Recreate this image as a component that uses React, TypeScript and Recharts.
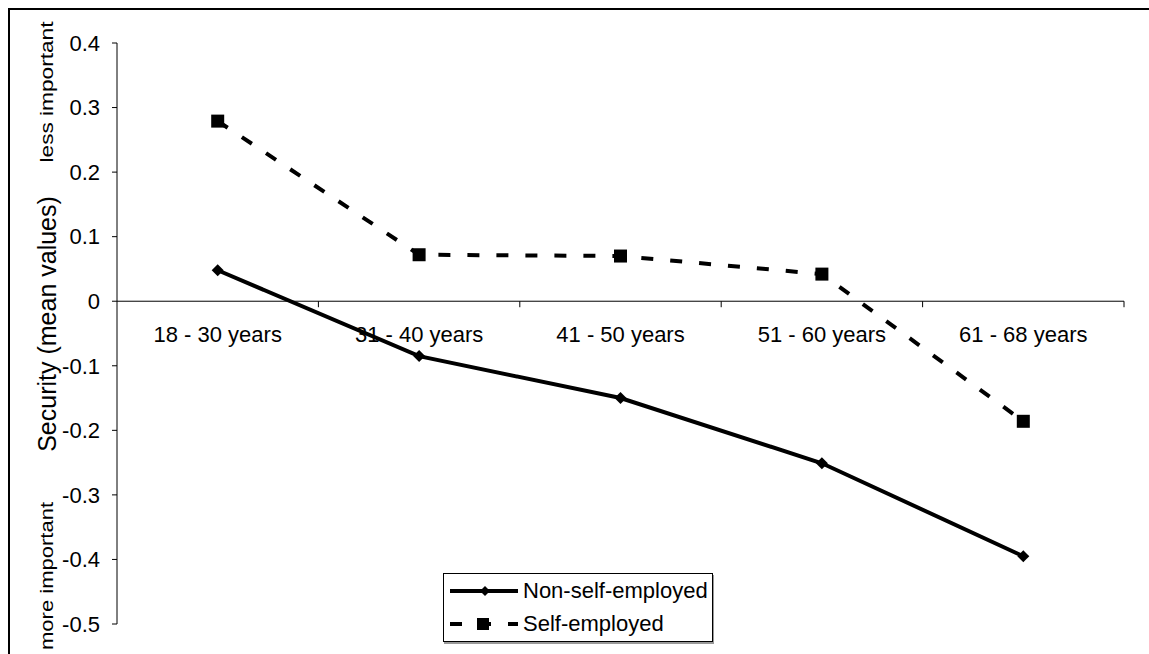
import React from "react";
import {
  LineChart,
  Line,
  XAxis,
  YAxis,
  Legend,
  ReferenceLine,
} from "recharts";

const categories = ["18 - 30 years", "31 - 40 years", "41 - 50 years", "51 - 60 years", "61 - 68 years"];
const nonSelfEmployed = [0.048, -0.085, -0.15, -0.251, -0.395];
const selfEmployed = [0.279, 0.072, 0.07, 0.042, -0.186];
const yTicks = [0.4, 0.3, 0.2, 0.1, 0, -0.1, -0.2, -0.3, -0.4, -0.5];

const FONT = "'Liberation Sans', Arial, Helvetica, sans-serif";
const W = 1139;
const H = 644;
const X_AXIS_H = 30;
const M = { top: 33, right: 25, bottom: 0, left: 0 };
const Y_AXIS_W = 107;
const PLOT_W = W - M.left - M.right - Y_AXIS_W;
const PLOT_H = H - M.top - M.bottom - X_AXIS_H;
const HALF_BAND = PLOT_W / categories.length / 2;
// y pixel of the zero line, where the category axis sits
const ZERO_Y = M.top + (yTicks[0] / (yTicks[0] - yTicks[yTicks.length - 1])) * PLOT_H;

// the chart fills the window edge to edge, so keep scrollbars away
if (typeof document !== "undefined") {
  document.documentElement.style.overflow = "hidden";
  document.body.style.overflow = "hidden";
}

const data = categories.map((name, i) => ({
  name,
  nonSelf: nonSelfEmployed[i],
  self: selfEmployed[i],
}));

function CategoryTick(props: any) {
  const { x, payload } = props;
  const edge = x + HALF_BAND;
  return (
    <g>
      <line x1={edge} x2={edge} y1={ZERO_Y} y2={ZERO_Y + 6} stroke="#000" strokeWidth={1} />
      <text x={x} y={ZERO_Y + 41} textAnchor="middle" fontSize={22} fontFamily={FONT} fill="#000">
        {payload.value}
      </text>
    </g>
  );
}

function DiamondDot(props: any) {
  const { cx, cy, index } = props;
  const s = 6;
  return (
    <path
      key={`d-${index}`}
      d={`M${cx},${cy - s}L${cx + s},${cy}L${cx},${cy + s}L${cx - s},${cy}Z`}
      fill="#000"
    />
  );
}

function SquareDot(props: any) {
  const { cx, cy, index } = props;
  const s = 13;
  return <rect key={`s-${index}`} x={cx - s / 2} y={cy - s / 2} width={s} height={s} fill="#000" />;
}

function AxisTitles() {
  const x = 37;
  const t = (y: number, size: number, text: string, len?: number) => (
    <text
      x={x}
      y={y}
      transform={`rotate(-90 ${x} ${y})`}
      textAnchor="middle"
      dominantBaseline="central"
      fontSize={size}
      fontFamily={FONT}
      fill="#000"
      textLength={len}
      lengthAdjust={len ? "spacingAndGlyphs" : undefined}
    >
      {text}
    </text>
  );
  return (
    <g>
      {t(82, 18, "less important", 141)}
      {t(314, 25, "Security (mean values)")}
      {t(566, 18, "more important", 148)}
    </g>
  );
}

function renderLegend(props: any) {
  const { payload } = props;
  return (
    <div
      style={{
        border: "1px solid #000",
        background: "#fff",
        boxShadow: "1px 2px 0 #999",
        height: 67,
        fontFamily: FONT,
        fontSize: 22,
        color: "#000",
      }}
    >
      {(payload || []).map((entry: any) => {
        const dashed = entry.dataKey === "self";
        return (
          <div key={entry.dataKey} style={{ display: "flex", alignItems: "center", height: 33.5 }}>
            <svg width={78} height={20} style={{ flex: "none" }}>
              <line
                x1={6}
                x2={74}
                y1={10}
                y2={10}
                stroke="#000"
                strokeWidth={4}
                strokeDasharray={dashed ? "12 17" : undefined}
              />
              {dashed ? (
                <rect x={33} y={4} width={12} height={12} fill="#000" />
              ) : (
                <path d="M41,5L46,10L41,15L36,10Z" fill="#000" />
              )}
            </svg>
            <span style={{ marginLeft: 1, lineHeight: "22px" }}>{entry.value}</span>
          </div>
        );
      })}
    </div>
  );
}

export default function App() {
  return (
    <div
      style={{
        position: "fixed",
        left: 8,
        top: 8,
        width: W + 60,
        height: H + 20,
        borderLeft: "2px solid #000",
        borderTop: "2px solid #000",
        background: "#fff",
        overflow: "hidden",
      }}
    >
      <LineChart width={W} height={H} data={data} margin={M}>
        <ReferenceLine y={0} stroke="#000" strokeWidth={1} />
        <XAxis
          dataKey="name"
          height={X_AXIS_H}
          axisLine={false}
          tickLine={false}
          interval={0}
          padding={{ left: HALF_BAND, right: HALF_BAND }}
          tick={<CategoryTick />}
        />
        <YAxis
          width={Y_AXIS_W}
          domain={[-0.5, 0.4]}
          ticks={yTicks}
          interval={0}
          allowDataOverflow
          axisLine={{ stroke: "#000" }}
          tickLine={{ stroke: "#000" }}
          tickSize={5}
          tickMargin={12}
          tick={{ fontSize: 22, fontFamily: FONT, fill: "#000" }}
          tickFormatter={(v: number) => (v === 0 ? "0" : v.toFixed(1))}
          label={{ content: () => <AxisTitles /> }}
        />
        <Legend
          layout="horizontal"
          verticalAlign="middle"
          align="center"
          content={renderLegend}
          wrapperStyle={{ left: 433, top: 563, width: 270, height: 69 }}
        />
        <Line
          dataKey="nonSelf"
          name="Non-self-employed"
          stroke="#000"
          strokeWidth={4}
          dot={DiamondDot}
          activeDot={false}
          isAnimationActive={false}
        />
        <Line
          dataKey="self"
          name="Self-employed"
          stroke="#000"
          strokeWidth={4}
          strokeDasharray="12 17"
          dot={SquareDot}
          activeDot={false}
          isAnimationActive={false}
        />
      </LineChart>
    </div>
  );
}
